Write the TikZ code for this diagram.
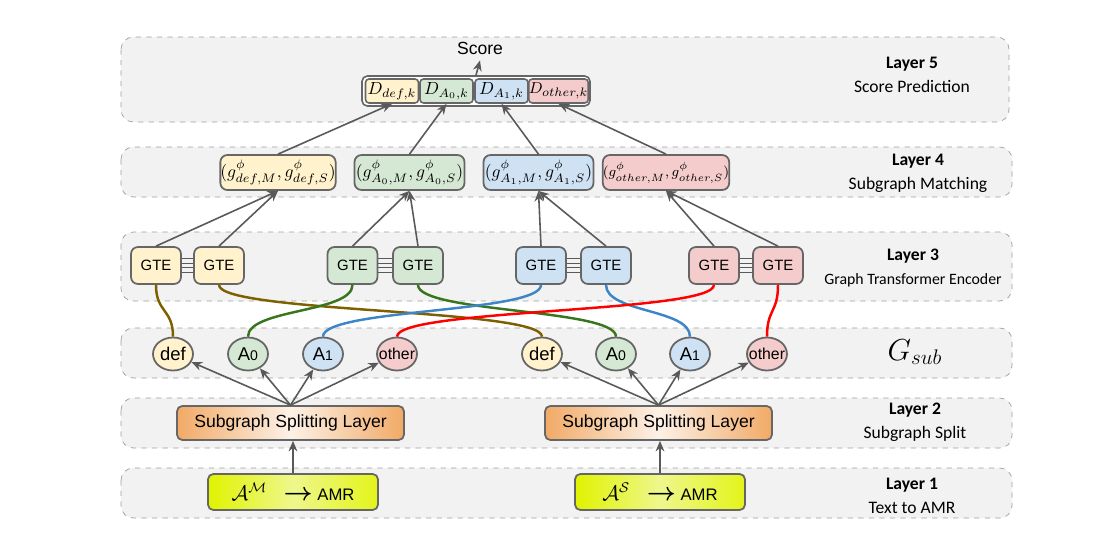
\documentclass[tikz,border=0pt]{standalone}
\usepackage{fontspec}
\usepackage{amsmath}
\usepackage{tikz}
\usetikzlibrary{shapes.geometric,arrows.meta}
\newfontfamily\arialfont{Liberation Sans}
\newfontfamily\calfont{Carlito}
\definecolor{bandc}{HTML}{F2F2F2}
\definecolor{edgec}{HTML}{666666}
\definecolor{arrowc}{HTML}{595959}
\definecolor{defc}{HTML}{FFF2CC}
\definecolor{azc}{HTML}{D5E8D4}
\definecolor{aoc}{HTML}{CFE2F3}
\definecolor{othc}{HTML}{F4CCCC}
\definecolor{splitc}{HTML}{F1AA66}
\definecolor{splitm}{HTML}{FDF1E7}
\definecolor{amrc}{HTML}{E0F300}
\definecolor{amrm}{HTML}{EEF78C}
\definecolor{defl}{HTML}{7F6000}
\definecolor{azl}{HTML}{38761D}
\definecolor{aol}{HTML}{3D85C6}
\definecolor{othl}{HTML}{FF0000}
\begin{document}
\begin{tikzpicture}[x=0.02cm, y=-0.02cm,
    band/.style={draw=gray!75, dashed, fill=bandc, rounded corners=7pt},
    dbox/.style={draw=edgec, line width=0.9pt, rounded corners=2pt, minimum width=1.06cm, minimum height=0.48cm, inner sep=0pt},
    match/.style={draw=edgec, line width=1pt, rounded corners=4pt, minimum width=2.2cm, minimum height=0.7cm, inner sep=0pt},
    gte/.style={draw=edgec, line width=1pt, rounded corners=4pt, minimum width=1cm, minimum height=0.74cm, font=\arialfont\fontsize{8.5}{10}\selectfont},
    sub/.style={ellipse, draw=edgec, line width=1pt, minimum width=0.8cm, minimum height=0.66cm, inner sep=0pt, font=\arialfont\fontsize{10.5}{12}\selectfont},
    split/.style={draw=edgec, line width=1pt, rounded corners=3pt, minimum width=4.54cm, minimum height=0.68cm, left color=splitc, right color=splitc, middle color=splitm, font=\arialfont\fontsize{10}{12}\selectfont},
    amr/.style={draw=edgec, line width=1pt, rounded corners=3pt, minimum width=3.4cm, minimum height=0.72cm, left color=amrc, right color=amrc!90!white, middle color=amrm, font=\arialfont\fontsize{9.5}{11}\selectfont},
    layer/.style={align=center, font=\calfont\fontsize{10}{13.5}\selectfont},
    arrow/.style={->, >={Stealth[length=6pt,width=5pt]}, draw=arrowc, line width=0.9pt},
    tie/.style={draw=arrowc, line width=0.6pt},
    link/.style={line width=1.4pt}
]
    \useasboundingbox (0,0) rectangle (1110,545);
    \draw[band] (121,37) rectangle (1009,122);
    \draw[band] (121,147) rectangle (1012,197);
    \draw[band] (121,232) rectangle (1012,301);
    \draw[band] (121,328) rectangle (1012,378);
    \draw[band] (121,398) rectangle (1012,448);
    \draw[band] (121,468) rectangle (1012,518);

    % layer 5
    \node[font=\arialfont\fontsize{10}{12}\selectfont] (score) at (480,48) {Score};
    \node[draw=edgec, line width=0.9pt, fill=white, rounded corners=3pt, minimum width=4.56cm, minimum height=0.6cm] (dall) at (476,91) {};
    \node[dbox, fill=defc] (d1) at (392,91) {$D_{def,k}$};
    \node[dbox, fill=azc] (d2) at (446.5,91) {$D_{A_0,k}$};
    \node[dbox, fill=aoc] (d3) at (501.5,91) {$D_{A_1,k}$};
    \node[dbox, fill=othc, minimum width=1.14cm, font=\fontsize{9.5}{11}\selectfont] (d4) at (558.5,91) {$D_{other,k}$};
    \draw[arrow] (dall.north) -- (score.south);

    % layer 4
    \node[match, fill=defc] (m1) at (278,172.5) {$(g^{\phi}_{def,M},g^{\phi}_{def,S})$};
    \node[match, fill=azc] (m2) at (409.5,172.5) {$(g^{\phi}_{A_0,M},g^{\phi}_{A_0,S})$};
    \node[match, fill=aoc] (m3) at (538.5,172.5) {$(g^{\phi}_{A_1,M},g^{\phi}_{A_1,S})$};
    \node[match, fill=othc, font=\fontsize{8.5}{10}\selectfont] (m4) at (666,172.5) {$(g^{\phi}_{other,M},g^{\phi}_{other,S})$};
    \draw[arrow] (m1.north) -- (d1.south);
    \draw[arrow] (m2.north) -- (d2.south);
    \draw[arrow] (m3.north) -- (d3.south);
    \draw[arrow] (m4.north) -- (d4.south);

    % layer 3
    \node[gte, fill=defc] (g1a) at (156,265.5) {GTE};
    \node[gte, fill=defc] (g1b) at (219,265.5) {GTE};
    \node[gte, fill=azc] (g2a) at (352.5,265.5) {GTE};
    \node[gte, fill=azc] (g2b) at (418,265.5) {GTE};
    \node[gte, fill=aoc] (g3a) at (541,265.5) {GTE};
    \node[gte, fill=aoc] (g3b) at (606,265.5) {GTE};
    \node[gte, fill=othc] (g4a) at (714,265.5) {GTE};
    \node[gte, fill=othc] (g4b) at (778,265.5) {GTE};
    \foreach \a/\b in {g1a/g1b, g2a/g2b, g3a/g3b, g4a/g4b}
        \foreach \dy in {-3.75,-1.25,1.25,3.75}
            \draw[tie] ([yshift=\dy pt]\a.east) -- ([yshift=\dy pt]\b.west);
    \draw[arrow] (g1a.north) -- (m1.south);
    \draw[arrow] (g1b.north) -- (m1.south);
    \draw[arrow] (g2a.north) -- (m2.south);
    \draw[arrow] (g2b.north) -- (m2.south);
    \draw[arrow] (g3a.north) -- (m3.south);
    \draw[arrow] (g3b.north) -- (m3.south);
    \draw[arrow] (g4a.north) -- (m4.south);
    \draw[arrow] (g4b.north) -- (m4.south);

    % subgraphs
    \node[sub, fill=defc] (s1) at (173,354) {def};
    \node[sub, fill=azc] (s2) at (248,354) {A{\fontsize{8}{9}\selectfont 0}};
    \node[sub, fill=aoc] (s3) at (323,354) {A{\fontsize{8}{9}\selectfont 1}};
    \node[sub, fill=othc, font=\arialfont\fontsize{9}{10}\selectfont] (s4) at (397,354) {\makebox[0pt]{other}};
    \node[sub, fill=defc] (t1) at (542,354) {def};
    \node[sub, fill=azc] (t2) at (616,354) {A{\fontsize{8}{9}\selectfont 0}};
    \node[sub, fill=aoc] (t3) at (690,354) {A{\fontsize{8}{9}\selectfont 1}};
    \node[sub, fill=othc, font=\arialfont\fontsize{9}{10}\selectfont] (t4) at (767,354) {\makebox[0pt]{other}};
    \node[font=\fontsize{17}{20}\selectfont] (gsub) at (915,352) {$G_{sub}$};

    \draw[link, defl] (g1a.south) .. controls +(0,28) and +(0,-28) .. (s1.north);
    \draw[link, defl] (g1b.south) .. controls +(0,28) and +(0,-28) .. (t1.north);
    \draw[link, azl] (g2a.south) .. controls +(0,28) and +(0,-28) .. (s2.north);
    \draw[link, azl] (g2b.south) .. controls +(0,28) and +(0,-28) .. (t2.north);
    \draw[link, aol] (g3a.south) .. controls +(0,28) and +(0,-28) .. (s3.north);
    \draw[link, aol] (g3b.south) .. controls +(0,28) and +(0,-28) .. (t3.north);
    \draw[link, othl] (g4a.south) .. controls +(0,28) and +(0,-28) .. (s4.north);
    \draw[link, othl] (g4b.south) .. controls +(0,28) and +(0,-28) .. (t4.north);

    % layer 2 and 1
    \node[split] (p1) at (290.5,423) {Subgraph Splitting Layer};
    \node[split] (p2) at (658.5,423) {Subgraph Splitting Layer};
    \node[amr] (a1) at (293,492) {{\large$\mathcal{A}^{\mathcal{M}}$}\quad{\Large$\boldsymbol{\rightarrow}$} AMR};
    \node[amr] (a2) at (660,492) {{\large$\mathcal{A}^{\mathcal{S}}$}\quad{\Large$\boldsymbol{\rightarrow}$} AMR};
    \foreach \n in {s1,s2,s3,s4}
        \draw[arrow] (p1.north) -- (\n);
    \foreach \n in {t1,t2,t3,t4}
        \draw[arrow] (p2.north) -- (\n);
    \draw[arrow] (a1.north) -- (a1.north |- p1.south);
    \draw[arrow] (a2.north) -- (a2.north |- p2.south);

    % layer names
    \node[layer] (l5) at (912,75) {\textbf{Layer 5}\\Score Prediction};
    \node[layer] (l4) at (918,173.5) {\textbf{Layer 4}\\Subgraph Matching};
    \node[layer] (l3) at (913,268) {\textbf{Layer 3}\\{\fontsize{9}{11}\selectfont Graph Transformer Encoder}};
    \node[layer] (l2) at (915,422.5) {\textbf{Layer 2}\\Subgraph Split};
    \node[layer] (l1) at (912,496) {\textbf{Layer 1}\\Text to AMR};
\end{tikzpicture}
\end{document}
